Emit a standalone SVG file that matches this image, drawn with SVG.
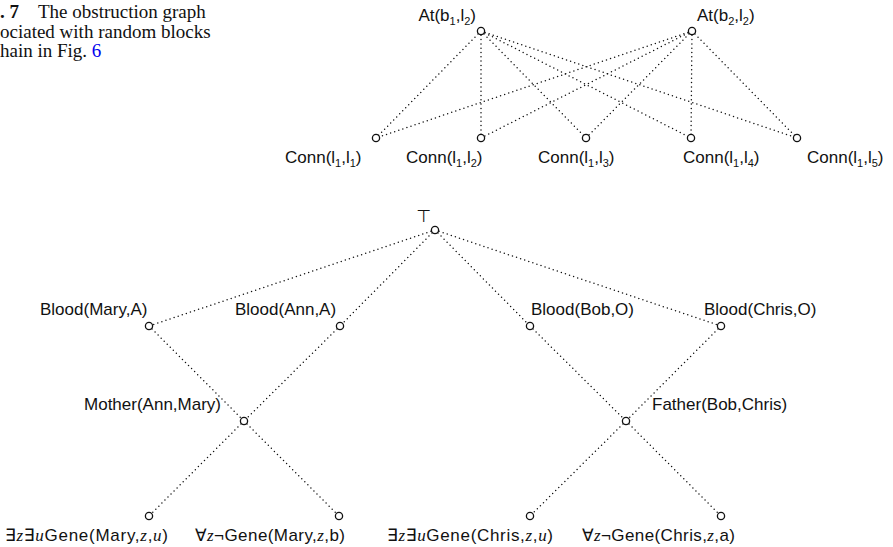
<svg xmlns="http://www.w3.org/2000/svg" width="893" height="547" viewBox="0 0 893 547">
<style>
.lbl{font-family:"Liberation Sans","DejaVu Sans",sans-serif;font-size:17px;fill:#111}
.sub{font-size:11px}
.mi{font-family:"Liberation Serif","DejaVu Serif",serif;font-style:italic}
.cap{font-family:"Liberation Serif","Times New Roman",serif;font-size:19px;fill:#111}
.edge{stroke:#111;stroke-width:1.5;stroke-linecap:round;stroke-dasharray:0 4.3;fill:none}
.nd{fill:#fff;stroke:#111;stroke-width:1.3}
</style>
<rect width="893" height="547" fill="#fff"/>
<g id="caption">
<text class="cap" x="0" y="18" font-weight="bold">. 7</text>
<text class="cap" x="38" y="18">The obstruction graph</text>
<text class="cap" x="0" y="38">ociated with random blocks</text>
<text class="cap" x="0" y="57">hain in Fig. <tspan fill="#0000ee">6</tspan></text>
</g>
<g id="connectors">
<line class="edge" x1="481" y1="31" x2="376" y2="138"/>
<line class="edge" x1="481" y1="31" x2="481" y2="138"/>
<line class="edge" x1="481" y1="31" x2="586" y2="138"/>
<line class="edge" x1="481" y1="31" x2="691" y2="138"/>
<line class="edge" x1="481" y1="31" x2="797" y2="138"/>
<line class="edge" x1="692" y1="31" x2="376" y2="138"/>
<line class="edge" x1="692" y1="31" x2="481" y2="138"/>
<line class="edge" x1="692" y1="31" x2="586" y2="138"/>
<line class="edge" x1="692" y1="31" x2="691" y2="138"/>
<line class="edge" x1="692" y1="31" x2="797" y2="138"/>
<line class="edge" x1="435" y1="230" x2="149" y2="326"/>
<line class="edge" x1="435" y1="230" x2="340" y2="326"/>
<line class="edge" x1="435" y1="230" x2="530" y2="326"/>
<line class="edge" x1="435" y1="230" x2="721" y2="326"/>
<line class="edge" x1="149" y1="326" x2="244" y2="421"/>
<line class="edge" x1="244" y1="421" x2="339" y2="516"/>
<line class="edge" x1="340" y1="326" x2="244" y2="421"/>
<line class="edge" x1="244" y1="421" x2="149" y2="516"/>
<line class="edge" x1="530" y1="326" x2="626" y2="421"/>
<line class="edge" x1="626" y1="421" x2="721" y2="516"/>
<line class="edge" x1="721" y1="326" x2="626" y2="421"/>
<line class="edge" x1="626" y1="421" x2="530" y2="516"/>
</g>
<g id="n-at-b1">
<circle class="nd" cx="481" cy="31" r="3.6"/>
<text class="lbl" x="476" y="21" text-anchor="end">At(b<tspan class="sub" dy="4">1</tspan><tspan dy="-4">,l</tspan><tspan class="sub" dy="4">2</tspan><tspan dy="-4">)</tspan></text>
</g>
<g id="n-at-b2">
<circle class="nd" cx="692" cy="31" r="3.6"/>
<text class="lbl" x="697" y="21">At(b<tspan class="sub" dy="4">2</tspan><tspan dy="-4">,l</tspan><tspan class="sub" dy="4">2</tspan><tspan dy="-4">)</tspan></text>
</g>
<g id="n-conn1">
<circle class="nd" cx="376" cy="138" r="3.6"/>
<text class="lbl" x="285" y="163">Conn(l<tspan class="sub" dy="4">1</tspan><tspan dy="-4">,l</tspan><tspan class="sub" dy="4">1</tspan><tspan dy="-4">)</tspan></text>
</g>
<g id="n-conn2">
<circle class="nd" cx="481" cy="138" r="3.6"/>
<text class="lbl" x="406" y="163">Conn(l<tspan class="sub" dy="4">1</tspan><tspan dy="-4">,l</tspan><tspan class="sub" dy="4">2</tspan><tspan dy="-4">)</tspan></text>
</g>
<g id="n-conn3">
<circle class="nd" cx="586" cy="138" r="3.6"/>
<text class="lbl" x="538" y="163">Conn(l<tspan class="sub" dy="4">1</tspan><tspan dy="-4">,l</tspan><tspan class="sub" dy="4">3</tspan><tspan dy="-4">)</tspan></text>
</g>
<g id="n-conn4">
<circle class="nd" cx="691" cy="138" r="3.6"/>
<text class="lbl" x="683" y="163">Conn(l<tspan class="sub" dy="4">1</tspan><tspan dy="-4">,l</tspan><tspan class="sub" dy="4">4</tspan><tspan dy="-4">)</tspan></text>
</g>
<g id="n-conn5">
<circle class="nd" cx="797" cy="138" r="3.6"/>
<text class="lbl" x="807" y="163">Conn(l<tspan class="sub" dy="4">1</tspan><tspan dy="-4">,l</tspan><tspan class="sub" dy="4">5</tspan><tspan dy="-4">)</tspan></text>
</g>
<g id="n-top">
<circle class="nd" cx="435" cy="230" r="3.6"/>
<text class="lbl" x="424" y="222" font-size="12" text-anchor="middle">⊤</text>
</g>
<g id="n-blood-mary">
<circle class="nd" cx="149" cy="326" r="3.6"/>
<text class="lbl" x="40" y="315">Blood(Mary,A)</text>
</g>
<g id="n-blood-ann">
<circle class="nd" cx="340" cy="326" r="3.6"/>
<text class="lbl" x="235" y="315">Blood(Ann,A)</text>
</g>
<g id="n-blood-bob">
<circle class="nd" cx="530" cy="326" r="3.6"/>
<text class="lbl" x="531" y="315">Blood(Bob,O)</text>
</g>
<g id="n-blood-chris">
<circle class="nd" cx="721" cy="326" r="3.6"/>
<text class="lbl" x="704" y="315">Blood(Chris,O)</text>
</g>
<g id="n-mother">
<circle class="nd" cx="244" cy="421" r="3.6"/>
<text class="lbl" x="221" y="410" text-anchor="end">Mother(Ann,Mary)</text>
</g>
<g id="n-father">
<circle class="nd" cx="626" cy="421" r="3.6"/>
<text class="lbl" x="652" y="410">Father(Bob,Chris)</text>
</g>
<g id="n-gene-mary-e">
<circle class="nd" cx="149" cy="516" r="3.6"/>
<text class="lbl" x="5" y="541" textLength="163" lengthAdjust="spacing">∃<tspan class="mi">z</tspan>∃<tspan class="mi">u</tspan>Gene(Mary,<tspan class="mi">z</tspan>,<tspan class="mi">u</tspan>)</text>
</g>
<g id="n-gene-mary-a">
<circle class="nd" cx="339" cy="516" r="3.6"/>
<text class="lbl" x="195" y="541" textLength="150" lengthAdjust="spacing">∀<tspan class="mi">z</tspan>¬Gene(Mary,<tspan class="mi">z</tspan>,b)</text>
</g>
<g id="n-gene-chris-e">
<circle class="nd" cx="530" cy="516" r="3.6"/>
<text class="lbl" x="387" y="541" textLength="166" lengthAdjust="spacing">∃<tspan class="mi">z</tspan>∃<tspan class="mi">u</tspan>Gene(Chris,<tspan class="mi">z</tspan>,<tspan class="mi">u</tspan>)</text>
</g>
<g id="n-gene-chris-a">
<circle class="nd" cx="721" cy="516" r="3.6"/>
<text class="lbl" x="582" y="541" textLength="153" lengthAdjust="spacing">∀<tspan class="mi">z</tspan>¬Gene(Chris,<tspan class="mi">z</tspan>,a)</text>
</g>
</svg>
